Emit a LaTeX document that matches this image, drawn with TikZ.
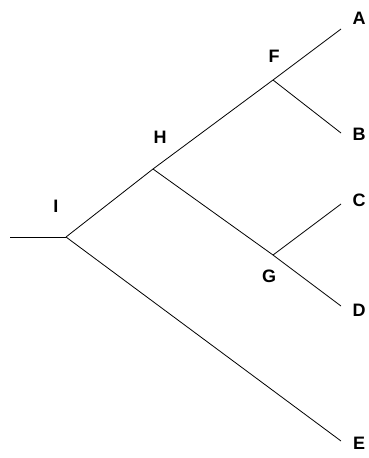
\documentclass[tikz,border=0pt]{standalone}
\usepackage{fontspec}
\setmainfont{Liberation Sans}
\begin{document}
\begin{tikzpicture}[x=1pt,y=-1pt,
  branch/.style={draw=black,line width=0.8pt},
  lbl/.style={font=\fontsize{18}{18}\selectfont\bfseries,inner sep=0pt}]
\useasboundingbox (0,0) rectangle (369,458);
\coordinate (L0) at (10,237);
\coordinate (I) at (66,237);
\coordinate (H) at (153,169);
\coordinate (F) at (273,80);
\coordinate (G) at (273,255);
\coordinate (A) at (341,29);
\coordinate (B) at (341,133);
\coordinate (C) at (341,204);
\coordinate (D) at (341,306);
\coordinate (E) at (341,441);
\draw[branch] (L0) -- (I);
\draw[branch] (I) -- (H);
\draw[branch] (I) -- (E);
\draw[branch] (H) -- (F);
\draw[branch] (H) -- (G);
\draw[branch] (F) -- (A);
\draw[branch] (F) -- (B);
\draw[branch] (G) -- (C);
\draw[branch] (G) -- (D);
\node[lbl] (lI) at (56,206) {I};
\node[lbl] (lH) at (160,137) {H};
\node[lbl] (lF) at (274,56) {F};
\node[lbl] (lG) at (269,276) {G};
\node[lbl] (lA) at (359,18) {A};
\node[lbl] (lB) at (359,134) {B};
\node[lbl] (lC) at (359,200) {C};
\node[lbl] (lD) at (359,310) {D};
\node[lbl] (lE) at (359,443) {E};
\end{tikzpicture}
\end{document}
